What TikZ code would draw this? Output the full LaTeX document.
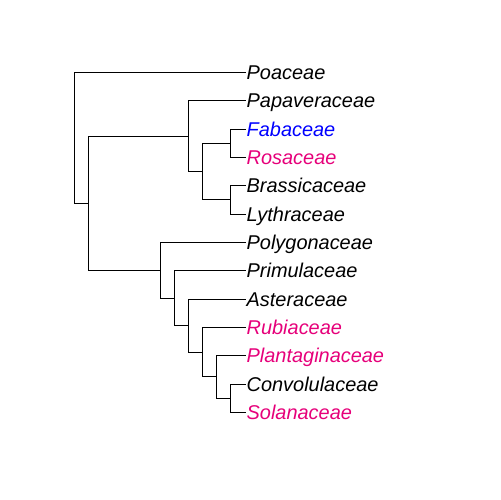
\documentclass[tikz,border=0pt]{standalone}
\usepackage{fontspec}
\setmainfont{Liberation Sans}
\definecolor{pinkc}{RGB}{230,0,122}
\definecolor{bluec}{RGB}{0,0,255}
\begin{document}
\begin{tikzpicture}[x=1bp,y=-1bp,
  edge/.style={line width=1.5bp,line cap=rect,line join=miter},
  leaf/.style={anchor=base west,inner xsep=1bp,inner ysep=0pt,yshift=-7.2bp,font=\fontsize{20}{24}\selectfont\itshape}]
\useasboundingbox (0,0) rectangle (500,500);
% leaf tips
\def\lx{245.5}
\coordinate (l1) at (\lx,72.5);
\coordinate (l2) at (\lx,100.5);
\coordinate (l3) at (\lx,129.5);
\coordinate (l4) at (\lx,157.5);
\coordinate (l5) at (\lx,185.5);
\coordinate (l6) at (\lx,214.5);
\coordinate (l7) at (\lx,242.5);
\coordinate (l8) at (\lx,270.5);
\coordinate (l9) at (\lx,299.5);
\coordinate (l10) at (\lx,327.5);
\coordinate (l11) at (\lx,355.5);
\coordinate (l12) at (\lx,384.5);
\coordinate (l13) at (\lx,412.5);
% labels
\node[leaf] (t1) at (l1) {Poaceae};
\node[leaf] (t2) at (l2) {Papaveraceae};
\node[leaf,text=bluec] (t3) at (l3) {Fabaceae};
\node[leaf,text=pinkc] (t4) at (l4) {Rosaceae};
\node[leaf] (t5) at (l5) {Brassicaceae};
\node[leaf] (t6) at (l6) {Lythraceae};
\node[leaf] (t7) at (l7) {Polygonaceae};
\node[leaf] (t8) at (l8) {Primulaceae};
\node[leaf] (t9) at (l9) {Asteraceae};
\node[leaf,text=pinkc] (t10) at (l10) {Rubiaceae};
\node[leaf,text=pinkc] (t11) at (l11) {Plantaginaceae};
\node[leaf] (t12) at (l12) {Convolulaceae};
\node[leaf,text=pinkc] (t13) at (l13) {Solanaceae};
% internal nodes (x, y = midpoint of children, snapped to pixel centres)
\coordinate (D) at (230.5,143.5);   % Fab+Ros
\coordinate (E) at (230.5,199.5);   % Bras+Lyth
\coordinate (C) at (202.5,171.5);   % D+E
\coordinate (B) at (188.5,136.5);   % Papav + C
\coordinate (K) at (230.5,398.5);   % Conv+Sol
\coordinate (J) at (216.5,376.5);   % Plant + K
\coordinate (I) at (202.5,352.5);   % Rub + J
\coordinate (H) at (188.5,325.5);   % Aster + I
\coordinate (G) at (174.5,298.5);   % Prim + H
\coordinate (F) at (160.5,270.5);   % Polyg + G
\coordinate (A) at (88.5,203.5);    % B + F
\coordinate (R) at (74.5,138.5);    % Poaceae + A
% edges: each internal node drawn as one bracket path
\draw[edge] (l1) -- (R |- l1) -- (R |- A) -- (A);
\draw[edge] (B) -- (A |- B) -- (A |- F) -- (F);
\draw[edge] (l2) -- (B |- l2) -- (B |- C) -- (C);
\draw[edge] (D) -- (C |- D) -- (C |- E) -- (E);
\draw[edge] (l3) -- (D |- l3) -- (D |- l4) -- (l4);
\draw[edge] (l5) -- (E |- l5) -- (E |- l6) -- (l6);
\draw[edge] (l7) -- (F |- l7) -- (F |- G) -- (G);
\draw[edge] (l8) -- (G |- l8) -- (G |- H) -- (H);
\draw[edge] (l9) -- (H |- l9) -- (H |- I) -- (I);
\draw[edge] (l10) -- (I |- l10) -- (I |- J) -- (J);
\draw[edge] (l11) -- (J |- l11) -- (J |- K) -- (K);
\draw[edge] (l12) -- (K |- l12) -- (K |- l13) -- (l13);
\end{tikzpicture}
\end{document}
